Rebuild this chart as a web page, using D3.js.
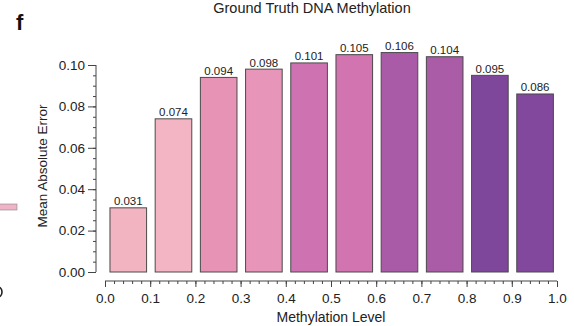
<!DOCTYPE html>
<html>
<head>
<meta charset="utf-8">
<script src="https://cdn.jsdelivr.net/npm/d3@7"></script>
<style>
  html, body { margin: 0; padding: 0; background: #fff; }
  svg { display: block; font-family: "Liberation Sans", Arial, sans-serif; }
</style>
</head>
<body>
<svg id="chart" width="574" height="326"></svg>
<script>
// Methylation level bins (left edge of each 0.1-wide bin) and the error per bin
const binStarts = [0.0, 0.1, 0.2, 0.3, 0.4, 0.5, 0.6, 0.7, 0.8, 0.9];
const maeValues = [0.031, 0.074, 0.094, 0.098, 0.101, 0.105, 0.106, 0.104, 0.095, 0.086];
const barColors = ["#f3b4c2", "#f3b5c3", "#e693b6", "#e795b8", "#cf72b2", "#d174b0",
                   "#a95ba7", "#aa5ca7", "#7f479c", "#81489d"];
const xTicks = [0.0, 0.1, 0.2, 0.3, 0.4, 0.5, 0.6, 0.7, 0.8, 0.9, 1.0];
const yTicks = [0.00, 0.02, 0.04, 0.06, 0.08, 0.10];

const svg = d3.select("#chart");

const x = d3.scaleLinear().domain([0, 1]).range([105, 557]);
const y = d3.scaleLinear().domain([0, 0.10]).range([272, 65]);

// panel letter and title
svg.append("text").attr("x", 16).attr("y", 30)
  .attr("font-size", 22).attr("font-weight", "bold").attr("fill", "#111").text("f");
svg.append("text").attr("x", 312).attr("y", 13).attr("text-anchor", "middle")
  .attr("font-size", 14.5).attr("fill", "#222").text("Ground Truth DNA Methylation");

// fragments of the neighbouring panel at the left edge
svg.append("rect").attr("x", -2).attr("y", 204).attr("width", 19).attr("height", 6)
  .attr("fill", "#f0b3c6").attr("stroke", "#888").attr("stroke-width", 0.6);
svg.append("path").attr("d", "M-2,287 A4,5 0 0 1 -2,297")
  .attr("fill", "none").attr("stroke", "#222").attr("stroke-width", 1.6);

// bars
svg.append("g").selectAll("rect").data(maeValues).join("rect")
  .attr("x", (d, i) => x(binStarts[i] + 0.011))
  .attr("width", (d, i) => x(binStarts[i] + 0.092) - x(binStarts[i] + 0.011))
  .attr("y", d => y(d))
  .attr("height", d => y(0) - y(d))
  .attr("fill", (d, i) => barColors[i])
  .attr("stroke", "#4a4a4a").attr("stroke-width", 1);

// value labels
svg.append("g").selectAll("text").data(maeValues).join("text")
  .attr("x", (d, i) => x(binStarts[i] + 0.0515))
  .attr("y", d => y(d) - 2.5)
  .attr("text-anchor", "middle").attr("font-size", 11.5).attr("fill", "#222")
  .text(d => d.toFixed(3));

// y axis, shifted left of the plotting area
const yAxis = svg.append("g").attr("transform", "translate(96,0)")
  .call(d3.axisLeft(y).tickValues(yTicks).tickFormat(d3.format(".2f")).tickSize(8).tickPadding(3));
svg.append("g").attr("transform", "translate(96,0)")
  .call(d3.axisLeft(y).tickValues(d3.range(0, 0.1001, 0.005)).tickFormat("").tickSize(3))
  .call(g => g.select(".domain").remove());

// x axis, shifted below the bars
const xAxis = svg.append("g").attr("transform", "translate(0,281)")
  .call(d3.axisBottom(x).tickValues(xTicks).tickFormat(d3.format(".1f")).tickSize(6).tickPadding(6));
svg.append("g").attr("transform", "translate(0,281)")
  .call(d3.axisBottom(x).tickValues(d3.range(0, 1.0001, 0.02)).tickFormat("").tickSize(3))
  .call(g => g.select(".domain").remove());

yAxis.select(".domain").attr("d", `M0,${y(0.10)}V${y(0)}`);
xAxis.select(".domain").attr("d", `M${x(0)},0H${x(1)}`);
svg.selectAll(".tick line").attr("stroke", "#444");
svg.selectAll(".domain").attr("stroke", "#444");
svg.selectAll(".tick text").attr("font-size", 13.5).attr("fill", "#222")
  .attr("font-family", "'Liberation Sans', Arial, sans-serif");

// axis titles
svg.append("text").attr("x", 331).attr("y", 322).attr("text-anchor", "middle")
  .attr("font-size", 14).attr("fill", "#222").text("Methylation Level");
svg.append("text").attr("transform", "translate(47,166) rotate(-90)")
  .attr("text-anchor", "middle").attr("font-size", 13.5).attr("fill", "#222")
  .text("Mean Absolute Error");
</script>
</body>
</html>
